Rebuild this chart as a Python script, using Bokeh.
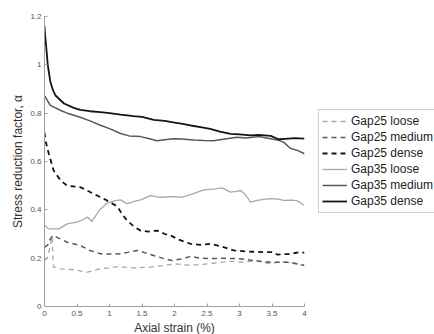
from bokeh.plotting import figure
from bokeh.models import Range1d, FixedTicker, Legend, LegendItem
from bokeh.embed import file_html
from bokeh.resources import INLINE

# ---- data ----
g25_loose_x = [0, 0.04, 0.08, 0.11, 0.12, 0.13, 0.14, 0.25, 0.45, 0.66, 0.86, 1.0, 1.12, 1.37, 1.63, 1.89, 2.04, 2.25, 2.6, 2.86, 3.06, 3.27, 3.48, 3.6, 3.73, 3.85, 3.98]
g25_loose_y = [0.19, 0.2, 0.24, 0.285, 0.29, 0.2, 0.163, 0.156, 0.152, 0.142, 0.156, 0.16, 0.165, 0.16, 0.163, 0.172, 0.176, 0.17, 0.179, 0.187, 0.183, 0.19, 0.176, 0.185, 0.183, 0.18, 0.17]

g25_medium_x = [0, 0.05, 0.09, 0.13, 0.2, 0.35, 0.55, 0.7, 0.86, 1.0, 1.17, 1.3, 1.43, 1.55, 1.68, 1.85, 1.96, 2.1, 2.25, 2.4, 2.55, 2.75, 2.96, 3.1, 3.22, 3.48, 3.73, 3.85, 4.0]
g25_medium_y = [0.245, 0.255, 0.28, 0.294, 0.285, 0.266, 0.252, 0.232, 0.218, 0.217, 0.218, 0.225, 0.232, 0.222, 0.211, 0.197, 0.19, 0.197, 0.207, 0.2, 0.198, 0.2, 0.198, 0.195, 0.19, 0.183, 0.183, 0.178, 0.17]

g25_dense_x = [0, 0.015, 0.066, 0.14, 0.25, 0.35, 0.55, 0.76, 0.96, 1.12, 1.2, 1.27, 1.38, 1.48, 1.6, 1.73, 1.85, 1.94, 2.04, 2.15, 2.25, 2.4, 2.55, 2.7, 2.91, 3.1, 3.37, 3.5, 3.58, 3.75, 3.94, 4.0]
g25_dense_y = [0.72, 0.687, 0.632, 0.563, 0.521, 0.5, 0.494, 0.466, 0.439, 0.414, 0.38, 0.356, 0.33, 0.314, 0.31, 0.314, 0.3, 0.294, 0.28, 0.268, 0.259, 0.255, 0.259, 0.25, 0.232, 0.228, 0.225, 0.225, 0.215, 0.217, 0.225, 0.222]

g35_loose_x = [0, 0.07, 0.22, 0.35, 0.5, 0.6, 0.66, 0.73, 0.84, 0.96, 1.07, 1.17, 1.27, 1.38, 1.48, 1.63, 1.78, 1.98, 2.1, 2.2, 2.3, 2.45, 2.6, 2.73, 2.86, 2.95, 3.02, 3.1, 3.17, 3.27, 3.4, 3.48, 3.6, 3.68, 3.8, 3.89, 4.0]
g35_loose_y = [0.335, 0.321, 0.321, 0.342, 0.349, 0.36, 0.37, 0.352, 0.397, 0.428, 0.437, 0.441, 0.425, 0.435, 0.441, 0.459, 0.452, 0.455, 0.452, 0.459, 0.468, 0.483, 0.486, 0.491, 0.473, 0.476, 0.48, 0.46, 0.432, 0.439, 0.444, 0.446, 0.444, 0.439, 0.44, 0.437, 0.418]

g35_medium_x = [0, 0.05, 0.09, 0.25, 0.35, 0.55, 0.7, 0.86, 1.0, 1.17, 1.3, 1.48, 1.6, 1.73, 1.85, 1.98, 2.1, 2.3, 2.45, 2.6, 2.75, 2.96, 3.1, 3.3, 3.48, 3.6, 3.68, 3.78, 3.9, 4.0]
g35_medium_y = [0.873, 0.85, 0.832, 0.811, 0.8, 0.783, 0.768, 0.75, 0.736, 0.716, 0.706, 0.703, 0.695, 0.686, 0.69, 0.694, 0.693, 0.689, 0.687, 0.686, 0.692, 0.7, 0.697, 0.703, 0.694, 0.688, 0.68, 0.655, 0.645, 0.632]

g35_dense_x = [0, 0.01, 0.025, 0.05, 0.09, 0.13, 0.17, 0.3, 0.45, 0.55, 0.7, 0.86, 1.0, 1.17, 1.37, 1.5, 1.68, 1.85, 1.98, 2.1, 2.25, 2.4, 2.55, 2.7, 2.86, 3.0, 3.17, 3.3, 3.48, 3.6, 3.7, 3.85, 4.0]
g35_dense_y = [1.16, 1.12, 1.08, 1.0, 0.93, 0.895, 0.873, 0.84, 0.822, 0.814, 0.808, 0.804, 0.8, 0.794, 0.788, 0.785, 0.772, 0.768, 0.762, 0.757, 0.749, 0.742, 0.735, 0.724, 0.714, 0.712, 0.708, 0.71, 0.706, 0.692, 0.694, 0.697, 0.695]

labels = ["Gap25 loose", "Gap25 medium", "Gap25 dense", "Gap35 loose", "Gap35 medium", "Gap35 dense"]
x_ticks = [0, 0.5, 1, 1.5, 2, 2.5, 3, 3.5, 4]
x_tick_labels = ["0", "0.5", "1", "1.5", "2", "2.5", "3", "3.5", "4"]
y_ticks = [0, 0.2, 0.4, 0.6, 0.8, 1.0, 1.2]
y_tick_labels = ["0", "0.2", "0.4", "0.6", "0.8", "1", "1.2"]

FONT = "Liberation Sans"

p = figure(frame_width=260, frame_height=290, output_backend="svg", toolbar_location=None,
           x_range=Range1d(0, 4), y_range=Range1d(0, 1.2),
           min_border_left=44, min_border_top=16, min_border_right=0, min_border_bottom=28)
p.outline_line_color = None
p.xgrid.visible = False
p.ygrid.visible = False
p.background_fill_color = "white"
p.border_fill_color = "white"

for ax, ticks, labs in ((p.xaxis[0], x_ticks, x_tick_labels), (p.yaxis[0], y_ticks, y_tick_labels)):
    ax.ticker = FixedTicker(ticks=ticks)
    ax.major_label_overrides = {t: l for t, l in zip(ticks, labs)}
    ax.axis_line_color = "#a0a0a0"
    ax.major_tick_line_color = "#a0a0a0"
    ax.major_tick_in = 3
    ax.major_tick_out = 0
    ax.minor_tick_line_color = None
    ax.major_label_text_font = FONT
    ax.major_label_text_font_size = "8px"
    ax.major_label_text_color = "#555555"
    ax.axis_label_text_font = FONT
    ax.axis_label_text_font_size = "12px"
    ax.axis_label_text_font_style = "normal"
    ax.axis_label_text_color = "#333333"

p.xaxis.axis_label = "Axial strain (%)"
p.yaxis.axis_label = "Stress reduction factor, α"
p.xaxis.major_label_standoff = 4
p.xaxis.axis_label_standoff = 2
p.yaxis.major_label_standoff = 3
p.yaxis.axis_label_standoff = 2

series = [
    (g25_loose_x, g25_loose_y, "#a8a8a8", 1.3, "5 4"),
    (g25_medium_x, g25_medium_y, "#585858", 1.5, "5 4"),
    (g25_dense_x, g25_dense_y, "#141414", 1.8, "5 4"),
    (g35_loose_x, g35_loose_y, "#a8a8a8", 1.3, "solid"),
    (g35_medium_x, g35_medium_y, "#585858", 1.5, "solid"),
    (g35_dense_x, g35_dense_y, "#141414", 1.8, "solid"),
]
items = []
for (xs, ys, c, w, d), lab in zip(series, labels):
    r = p.line(xs, ys, line_color=c, line_width=w, line_dash=d)
    items.append(LegendItem(label=lab, renderers=[r]))

legend = Legend(items=items, location="center_left")
legend.label_text_font = FONT
legend.label_text_font_size = "12px"
legend.label_text_color = "#222222"
legend.glyph_width = 25
legend.glyph_height = 16
legend.label_height = 16
legend.label_standoff = 4
legend.spacing = 0
legend.padding = 3
legend.margin = 14
legend.border_line_color = "#a0a0a0"
legend.border_line_width = 1
legend.background_fill_color = "white"
legend.background_fill_alpha = 1
p.add_layout(legend, "right")

open("out.html", "w").write(file_html(p, INLINE))
